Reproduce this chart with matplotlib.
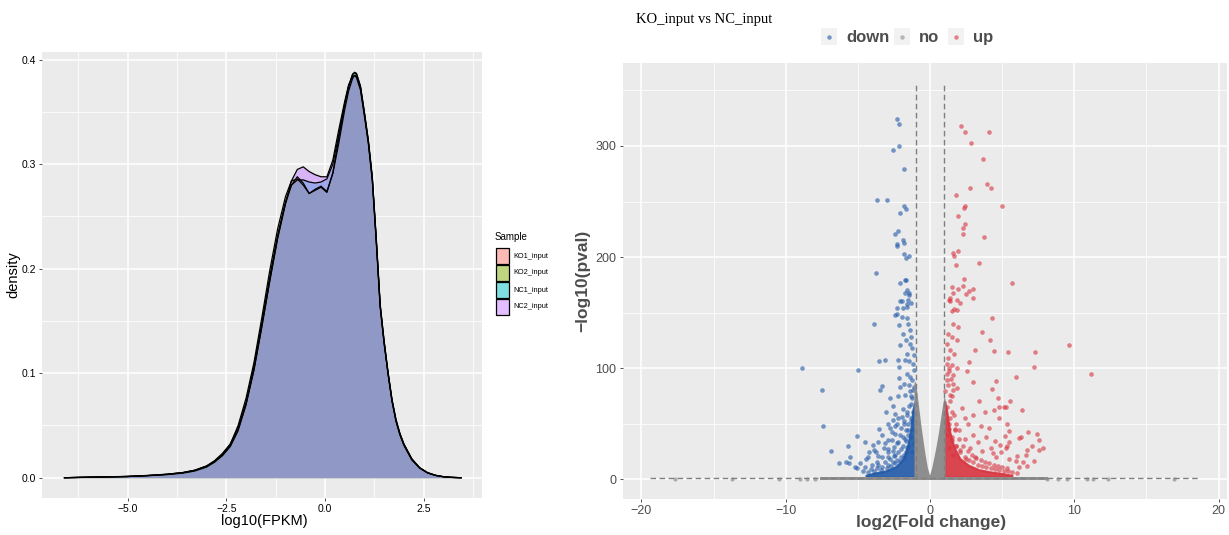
import numpy as np
import matplotlib
matplotlib.use('Agg')
import matplotlib.pyplot as plt
from matplotlib.patches import Rectangle
from matplotlib.lines import Line2D

plt.rcParams['font.family'] = ['Liberation Sans', 'DejaVu Sans']

# ---------------- data: density panel ----------------
samples = ['KO1_input', 'KO2_input', 'NC1_input', 'NC2_input']
sample_colors = ['#F8766D', '#7CAE00', '#00BFC4', '#C77CFF']
dens_x = [-6.6, -6.0, -5.5, -5.0, -4.5, -4.0, -3.6, -3.3, -3.0, -2.8, -2.6, -2.4, -2.2,
          -2.0, -1.8, -1.6, -1.4, -1.2, -1.0, -0.85, -0.7, -0.55, -0.4, -0.25, -0.1, 0.05,
          0.2, 0.35, 0.5, 0.6, 0.7, 0.75, 0.8, 0.9, 1.0, 1.1, 1.2, 1.3, 1.4, 1.5, 1.6,
          1.7, 1.8, 1.9, 2.0, 2.2, 2.4, 2.6, 2.8, 3.0, 3.2, 3.45]
dens_KO1 = [0, .0005, .0008, .0012, .002, .0032, .0048, .007, .011, .0155, .0215, .030, .045,
            .070, .103, .145, .188, .229, .262, .280, .288, .282, .272, .276, .279, .274,
            .291, .320, .352, .370, .382, .385, .383, .371, .346, .320, .284, .226, .163, .128, .099,
            .073, .054, .041, .031, .017, .0092, .0046, .0022, .0009, .0003, 0]
dens_KO2 = [0, .0006, .0009, .0013, .0022, .0034, .0050, .0072, .0112, .0158, .0222, .0320, .0500,
            .0760, .1100, .1530, .1980, .2380, .2690, .2840, .2860, .2800, .2720, .2750, .2780, .2730,
            .2920, .3250, .3570, .3740, .3860, .3875, .3860, .3740, .3490, .3220, .2870, .2280, .1650, .1300, .1000,
            .0740, .0550, .0420, .0320, .0180, .0095, .0048, .0023, .0010, .0004, 0]
dens_NC1 = [0, .0005, .0008, .0012, .0021, .0033, .0049, .0071, .0112, .0162, .0232, .0322, .0480,
            .0720, .1060, .1480, .1920, .2320, .2640, .2800, .2850, .2850, .2830, .2820, .2830, .2860,
            .3000, .3280, .3580, .3750, .3860, .3880, .3870, .3750, .3500, .3230, .2880, .2300, .1660, .1310, .1010,
            .0750, .0560, .0425, .0325, .0182, .0096, .0049, .0024, .0010, .0004, 0]
dens_NC2 = [0, .0004, .0007, .0011, .0019, .0030, .0044, .0064, .0102, .0148, .0210, .0300, .0460,
            .0700, .1030, .1440, .1880, .2290, .2630, .2840, .2950, .2975, .2930, .2900, .2880, .2880,
            .3040, .3330, .3600, .3760, .3840, .3850, .3840, .3730, .3480, .3210, .2860, .2270, .1640, .1290, .0995,
            .0735, .0545, .0415, .0318, .0178, .0094, .0047, .0022, .0010, .0003, 0]
dens_series = [dens_KO1, dens_KO2, dens_NC1, dens_NC2]
dens_xticks = [-5.0, -2.5, 0.0, 2.5]
dens_xticklabels = ['\u22125.0', '\u22122.5', '0.0', '2.5']
dens_yticks = [0.0, 0.1, 0.2, 0.3, 0.4]

# ---------------- data: volcano panel ----------------
down_x = [-2.27, -2.13, -2.17, -2.57, -1.83, -3.68, -2.96, -1.78, -1.64, -2.08, -2.20, -2.41, -1.88,
          -1.83, -2.31, -2.27, -1.81, -1.46, -1.69, -3.77, -2.08, -1.76, -1.64, -1.57, -1.44, -1.76,
          -1.48, -1.94, -1.50, -1.32, -2.27, -1.85, -1.60,
          -2.08, -1.62, -2.43, -2.27, -1.96, -1.62, -1.50, -2.13, -1.39, -1.85, -1.34, -1.68, -1.39,
          -2.08, -1.27, -1.62, -1.11, -1.73, -1.46, -2.20, -1.16, -2.13, -1.11, -1.62, -1.39, -2.13,
          -1.27, -1.80, -1.48, -1.11, -2.08, -1.39, -1.73, -1.27,
          -3.89, -7.48, -7.43, -8.84, -5.00, -3.52, -3.13, -3.33, -3.45, -2.80, -2.20, -3.06, -2.41,
          -5.09, -3.54, -5.72, -4.49, -6.83, -5.58, -6.32, -5.85, -5.60, -5.21, -3.98, -4.21, -4.47,
          -4.63, -4.04, -3.70, -3.35, -2.89, -3.74, -3.12, -2.66, -2.43, -2.77, -2.31, -2.54, -1.96,
          -4.85, -5.08, -4.50,
          -2.6, -1.9, -1.3, -2.2, -1.6, -1.15, -2.9, -2.4, -1.8, -1.35, -3.3, -2.65, -2.1, -1.55,
          -1.2, -3.6, -2.9, -2.3, -1.75, -1.3, -3.9, -3.2, -2.6, -2.0, -1.5, -1.1, -4.3, -3.6,
          -2.9, -2.4, -1.8, -1.25,
          -4.1, -3.7, -3.3, -2.9, -2.6, -2.3, -2.0, -1.7, -4.3, -3.9, -3.4, -3.0, -2.7, -2.4, -2.1,
          -1.8, -1.6, -3.6, -3.1, -2.8, -2.5, -2.2, -1.9, -1.7, -1.5, -2.9, -2.5, -2.2, -1.9, -1.7,
          -1.5, -1.35, -2.0, -1.8, -1.6, -1.45, -1.3, -1.2]
down_y = [324, 320, 300, 296, 279, 251, 251, 246, 243, 240, 223, 221, 215,
          213, 212, 210, 203, 201, 199, 186, 177, 179, 179, 170, 168, 168,
          166, 160, 161, 159, 154, 154, 155,
          160, 158, 148, 149, 146, 145, 140, 139, 134, 131, 128, 125, 122,
          121, 118, 113, 112, 107, 106, 107, 104, 101, 98, 95, 92, 91,
          89, 86, 85, 83, 83, 79, 76, 73,
          140, 80, 48, 100, 98, 106, 107, 84, 80, 73, 75, 60, 59,
          39, 45, 30, 33, 25, 20, 14, 15, 14, 11, 31, 24, 18,
          7.5, 12.6, 15.6, 20, 24.6, 24.6, 32, 35, 41, 45.6, 50, 53, 56,
          14, 9.6, 11,
          66, 63, 68, 55, 58, 60, 50, 48, 50, 52, 40, 42, 40, 44,
          45, 33, 35, 32, 36, 38, 26, 28, 25, 27, 30, 32, 20, 21,
          20, 22, 22, 24,
          9, 10, 11, 13, 15, 17, 20, 24, 6, 7, 8, 10, 12, 14, 16,
          19, 28, 13, 15, 18, 21, 24, 30, 34, 40, 27, 29, 33, 38, 44,
          50, 55, 46, 52, 60, 66, 75, 80]

up_x = [2.18, 2.43, 4.12, 2.85, 3.68, 2.80, 3.98, 4.21, 1.78, 2.41, 2.36, 5.02, 1.92, 2.43, 2.31,
        2.27, 3.77, 1.62, 1.92, 1.67, 1.78, 3.38, 2.34, 5.69, 1.94, 2.29, 1.53, 1.60, 2.96, 2.71,
        2.52, 2.96, 1.41, 1.34, 1.88, 2.06, 1.67,
        1.39, 1.85, 1.50, 1.62, 1.96, 1.27, 1.50, 1.85, 1.16, 1.39, 1.66, 1.27, 1.20, 1.50, 1.85,
        1.34, 1.62, 1.20, 1.57, 1.85, 1.04, 1.39,
        4.28, 3.63, 4.19, 3.15, 4.40, 5.42, 7.29, 7.18, 9.65, 11.18, 2.73, 2.55, 2.96, 4.56, 4.28,
        5.97, 5.16, 4.81, 4.44, 5.51, 4.70, 5.23, 6.39, 2.45, 4.81, 5.30, 6.78, 7.43, 5.19, 5.44,
        6.16, 6.32, 7.55, 4.49, 4.84, 5.49, 7.08, 7.85, 5.26, 5.33, 7.55, 6.69, 4.93, 4.35, 6.67,
        6.04, 7.18, 5.93, 6.41, 6.71, 6.18,
        3.4, 2.2, 3.0, 3.8, 2.6, 3.5, 4.1, 2.0, 3.0, 3.9, 2.4, 3.3, 4.2, 2.8, 3.6, 2.1, 4.6, 3.1,
        5.5, 2.5, 1.5, 1.3, 1.7, 1.2, 1.5, 1.8, 1.3, 1.6,
        1.3, 1.5, 1.8, 2.1, 2.4, 2.7, 3.0, 3.3, 3.6, 3.9, 4.2, 4.5, 4.8, 5.1, 5.4, 5.7, 6.0,
        1.4, 1.7, 2.0, 2.3, 2.6, 2.9, 3.2, 3.5, 3.8, 4.1, 4.4, 4.7, 5.0, 5.3, 1.2, 1.35, 1.5,
        1.65, 1.8, 1.25, 1.45, 1.6, 1.3, 1.15]
up_y = [318, 313, 313, 303, 288, 262, 266, 262, 256, 246, 244, 246, 237, 230, 226,
        221, 218, 204, 205, 201, 193, 195, 180, 177, 171, 174, 173, 168, 171, 169,
        167, 163, 163, 161, 161, 159, 153,
        160, 152, 151, 140, 137, 131, 128, 125, 122, 116, 113, 109, 104, 103, 100,
        97, 94, 89, 86, 82, 79, 76,
        145, 132, 125, 116, 115, 114, 114, 101, 121, 95, 105, 97, 87, 88, 81,
        92, 65, 65, 62, 70, 73, 65, 62, 55, 55, 50, 42, 41, 39, 43,
        37, 38, 35, 34.5, 30.6, 33, 30, 28, 28, 30, 26, 26, 24, 23, 22,
        21, 16.5, 16, 15, 12, 10.5,
        70, 64, 58, 60, 50, 48, 46, 44, 40, 38, 36, 33, 28, 28, 25, 26, 20, 20,
        18, 18, 60, 50, 45, 40, 35, 30, 28, 22,
        45, 38, 30, 24, 20, 17, 15, 13, 12, 11, 10, 9, 8, 7, 7, 6, 5,
        55, 44, 36, 30, 25, 22, 19, 17, 15, 14, 13, 12, 11, 10, 65, 70, 75,
        58, 50, 85, 90, 80, 100, 95]

# cores of the dense point clouds (outline of the solid-looking masses)
down_dense_x = [-1.0, -1.0, -1.15, -1.3, -1.5, -1.8, -2.3, -3.0, -3.8, -4.4, -4.4]
down_dense_y = [1.3, 70, 62, 45, 30, 18, 11, 7, 5, 3, 1.3]
up_dense_x = [1.05, 1.05, 1.2, 1.4, 1.7, 2.1, 2.7, 3.4, 4.2, 5.0, 5.7, 5.7]
up_dense_y = [1.3, 70, 60, 42, 28, 18, 12, 8, 6, 4.5, 3, 1.3]
no_v_x = [-1.08, -1.08, -1.0, -0.9, -0.75, -0.6, -0.45, -0.3, -0.15, 0.0, 0.15, 0.3, 0.45,
          0.6, 0.75, 0.9, 1.0, 1.08, 1.08]
no_v_y = [0, 86, 88, 80, 64, 48, 34, 21, 10, 3, 10, 19, 29, 40, 53, 66, 73, 72, 0]
no_base_x = [-7.6, 8.2]
no_sparse_x = [-17.7, -13.75, -10.5, -9.0, -8.56, -8.0, 8.1, 8.9, 9.5, 10.9, 11.3, 12.3, 16.9]
no_sparse_y = [0.3] * len(no_sparse_x)
fc_cut = [-1, 1]
p_cut = 1.3
vol_xticks = [-20, -10, 0, 10, 20]
vol_xticklabels = ['\u221220', '\u221210', '0', '10', '20']
vol_yticks = [0, 100, 200, 300]
legend_labels = ['down', 'no', 'up']

C_DOWN = '#2159A8'
C_UP = '#D8343F'
C_NO = '#8E8E8E'

W, H = 1229, 535
fig = plt.figure(figsize=(W / 100, H / 100), dpi=100)


def box(l, t, r, b):
    return [l / W, 1 - b / H, (r - l) / W, (b - t) / H]


def gg_style(ax, majx, minx, majy, miny):
    ax.set_facecolor('#EBEBEB')
    for s in ax.spines.values():
        s.set_visible(False)
    ax.set_xticks(majx)
    ax.set_xticks(minx, minor=True)
    ax.set_yticks(majy)
    ax.set_yticks(miny, minor=True)
    ax.grid(which='major', color='white', lw=1.1)
    ax.grid(which='minor', color='white', lw=0.55)
    ax.set_axisbelow(True)
    ax.tick_params(which='minor', length=0)
    ax.tick_params(which='major', length=2.5, width=0.6, color='#333333', pad=2)


# ---------------- left: density ----------------
axL = fig.add_axes(box(42, 52, 482, 498))
gg_style(axL, dens_xticks, [-6.25, -3.75, -1.25, 1.25, 3.75], dens_yticks,
         [0.05, 0.15, 0.25, 0.35])
for ys, c in zip(dens_series, sample_colors):
    axL.fill_between(dens_x, ys, 0, color=c, alpha=0.5, lw=0, zorder=2)
    axL.plot(dens_x, ys, color='black', lw=0.9, zorder=3)
axL.set_xlim(-7.17, 3.98)
axL.set_ylim(-0.0194, 0.4074)
axL.set_xticklabels(dens_xticklabels, fontsize=7.5, color='black')
axL.set_yticklabels(['0.0', '0.1', '0.2', '0.3', '0.4'], fontsize=7.5, color='black')
fig.text(264 / W, 1 - 521 / H, 'log10(FPKM)', fontsize=10.5, ha='center', va='center')
fig.text(13 / W, 1 - 275 / H, 'density', fontsize=10.5, ha='center', va='center', rotation=90)

# legend for density
fig.text(495 / W, 1 - 237 / H, 'Sample', fontsize=7, va='center', ha='left')
key_tops = [248, 265, 282, 299]
for lab, c, t in zip(samples, sample_colors, key_tops):
    fig.add_artist(Rectangle((496 / W, 1 - (t + 16) / H), 12.5 / W, 16 / H,
                             transform=fig.transFigure, facecolor='white', edgecolor='none'))
    fig.add_artist(Rectangle((496 / W, 1 - (t + 16) / H), 12.5 / W, 16 / H,
                             transform=fig.transFigure, facecolor=c, alpha=0.5, edgecolor='none'))
    fig.add_artist(Rectangle((496 / W, 1 - (t + 16) / H), 12.5 / W, 16 / H,
                             transform=fig.transFigure, facecolor='none', edgecolor='black', lw=0.9))
    fig.text(513 / W, 1 - (t + 8) / H, lab, fontsize=5.3, va='center', ha='left')

# ---------------- right: volcano ----------------
axR = fig.add_axes(box(622.7, 63.3, 1226.7, 499))
gg_style(axR, vol_xticks, [-15, -5, 5, 15], vol_yticks, [50, 150, 250, 350])
axR.fill(down_dense_x, down_dense_y, color=C_DOWN, alpha=0.9, lw=1.5, ec=C_DOWN, zorder=2)
axR.fill(up_dense_x, up_dense_y, color=C_UP, alpha=0.9, lw=1.5, ec=C_UP, zorder=2)
axR.scatter(down_x, down_y, s=11, color=C_DOWN, alpha=0.6, lw=0, zorder=3)
axR.scatter(up_x, up_y, s=11, color=C_UP, alpha=0.6, lw=0, zorder=3)
axR.fill_between(no_base_x, [-1.2, -1.2], [2.2, 2.2], color=C_NO, lw=0, zorder=4)
axR.fill(no_v_x, no_v_y, color=C_NO, lw=0, zorder=4)
axR.scatter(no_sparse_x, no_sparse_y, s=9, color=C_NO, alpha=0.7, lw=0, zorder=4)
for xv in fc_cut:
    axR.plot([xv, xv], [0, 356], color='#7F7F7F', lw=1.0, ls=(0, (4, 2.5)), zorder=5)
axR.plot([-19.4, 18.6], [p_cut, p_cut], color='#7F7F7F', lw=1.0, ls=(0, (4, 2.5)), zorder=5)
axR.set_xlim(-21.3, 20.56)
axR.set_ylim(-18, 374.5)
axR.set_xticklabels(vol_xticklabels, fontsize=9, color='#4D4D4D')
axR.set_yticklabels([str(v) for v in vol_yticks], fontsize=9, color='#4D4D4D')
fig.text(931 / W, 1 - 523 / H, 'log2(Fold change)', fontsize=12.5, fontweight='bold',
         color='#4D4D4D', ha='center', va='center')
fig.text(583 / W, 1 - 281 / H, '\u2212log10(pval)', fontsize=12.5, fontweight='bold',
         color='#4D4D4D', ha='center', va='center', rotation=90)

# title and top legend
fig.text(636.5 / W, 1 - 19 / H, 'KO_input vs NC_input', fontsize=10.5,
         family=['Liberation Serif', 'DejaVu Serif'], va='center', ha='left')
key_x = [821, 894, 948]
txt_x = [846, 919, 973]
for lab, c, kx, tx in zip(legend_labels, [C_DOWN, C_NO, C_UP], key_x, txt_x):
    fig.add_artist(Rectangle((kx / W, 1 - 45 / H), 16 / W, 17 / H, transform=fig.transFigure,
                             facecolor='#F2F2F2', edgecolor='none'))
    fig.add_artist(Line2D([(kx + 8) / W], [1 - 37 / H], transform=fig.transFigure,
                          marker='o', markersize=3.2, color=c, alpha=0.6, lw=0, mew=0))
    fig.text(tx / W, 1 - 37.5 / H, lab, fontsize=12, fontweight='bold', color='#4D4D4D',
             va='center', ha='left')

fig.savefig('out.png', dpi=100, facecolor='white')
